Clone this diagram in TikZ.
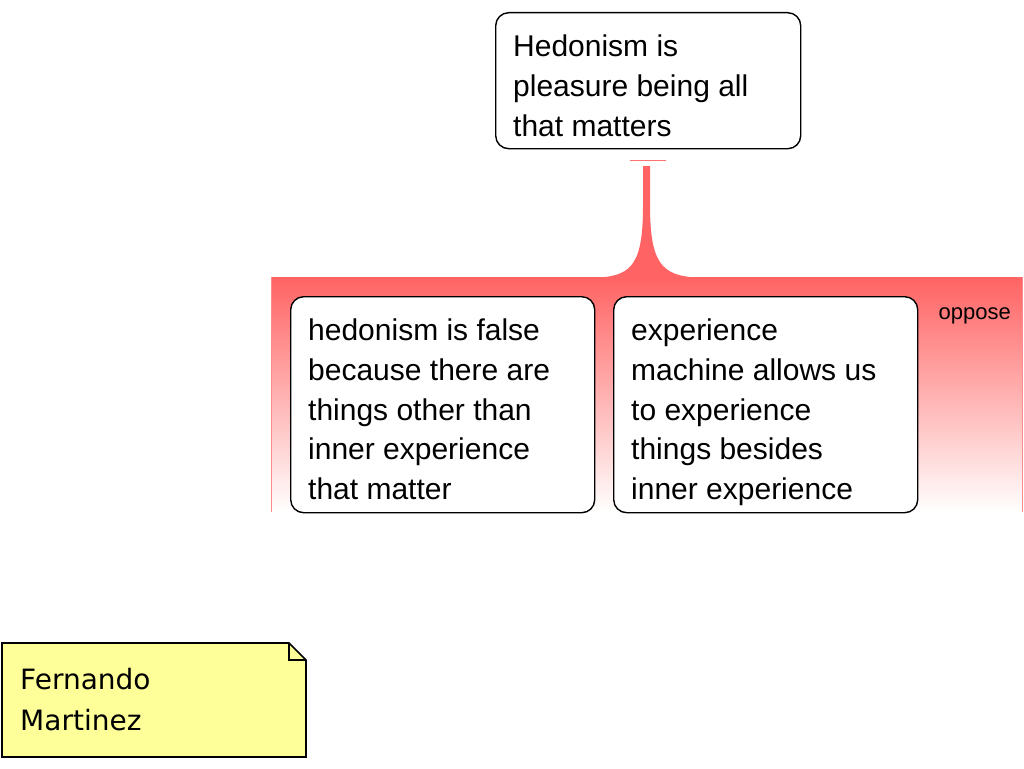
\documentclass[tikz,border=0pt]{standalone}
\usepackage{fontspec}
\setmainfont{Liberation Sans}
\newfontfamily\notefont{DejaVu Sans}
\definecolor{hedred}{RGB}{255,99,99}
\definecolor{noteyellow}{RGB}{255,255,153}
\tikzset{
  claimbox/.style={draw=black, line width=1.4pt, rounded corners=13pt, fill=white,
    anchor=north west, inner sep=0pt},
  claimtext/.style={anchor=north west, align=left, inner sep=0pt,
    font=\fontsize{30}{39.7}\selectfont},
  band/.style={draw=none, top color=hedred, bottom color=white, anchor=north west,
    inner sep=0pt},
  edgeline/.style={hedred!75, line width=1pt},
}
\newcommand{\firstline}{\rule{0pt}{30pt}}
\begin{document}
\begin{tikzpicture}[x=1pt,y=-1pt]
\useasboundingbox (0,0) rectangle (1024,768);
% opposing band
\node[band, minimum width=751pt, minimum height=235pt] (grp) at (271,277) {};
\draw[edgeline] (grp.north west) -- (grp.south west);
\draw[edgeline] (grp.north east) -- (grp.south east);
\node[anchor=base east, font=\fontsize{22}{26}\selectfont, inner sep=0pt] (lbl) at (1011,319) {oppose};
% top claim
\node[claimbox, minimum width=305pt, minimum height=136pt] (top) at (495,12) {};
\node[claimtext] (toptext) at ([xshift=18pt,yshift=-14.5pt]top.north west)
  {\firstline Hedonism is\\pleasure being all\\that matters};
% stem connector
\draw[hedred!90, line width=1.5pt] ([xshift=-18pt,yshift=-11pt]top.south) -- ([xshift=18pt,yshift=-11pt]top.south);
\fill[hedred] (643,166) -- (643,205) .. controls (643,262) and (633,276) .. (598,277.5)
  -- (697,277.5) .. controls (661,276) and (650,262) .. (650,205) -- (650,166) -- cycle;
% objections
\node[claimbox, minimum width=304pt, minimum height=216pt] (a) at (290,296) {};
\node[claimtext] (atext) at ([xshift=18pt,yshift=-14.5pt]a.north west)
  {\firstline hedonism is false\\because there are\\things other than\\inner experience\\that matter};
\node[claimbox, minimum width=304pt, minimum height=216pt] (b) at (613,296) {};
\node[claimtext] (btext) at ([xshift=18pt,yshift=-14.5pt]b.north west)
  {\firstline experience\\machine allows us\\to experience\\things besides\\inner experience};
% note
\fill[noteyellow] (2,643) -- (289,643) -- (306,660) -- (306,757) -- (2,757) -- cycle;
\draw[line width=1.6pt, line join=miter] (2,643) -- (289,643) -- (306,660) -- (306,757) -- (2,757) -- cycle;
\draw[line width=1.2pt] (289,643) -- (289,660) -- (306,660);
\node[anchor=base west, align=left, inner sep=0pt, font=\notefont\fontsize{28}{41}\selectfont] (note) at (20,730)
  {Fernando\\Martinez};
\end{tikzpicture}
\end{document}
